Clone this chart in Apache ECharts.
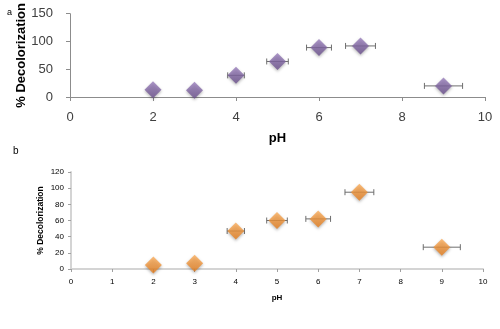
<!DOCTYPE html>
<html>
<head>
<meta charset="utf-8">
<script src="https://cdn.jsdelivr.net/npm/echarts@6/dist/echarts.min.js"></script>
<style>
  html, body { margin: 0; padding: 0; background: #fff; }
  #chart { width: 500px; height: 329px; }
</style>
</head>
<body>
<div id="chart"></div>
<script>
// panel a
const phA = [2, 3, 4, 5, 6, 7, 9];
const decolA = [13, 12, 39, 64, 89, 92, 20];
const errA = [0, 0, 0.2, 0.26, 0.3, 0.36, 0.46];
const yTicksA = [0, 50, 100, 150];

// panel b
const phB = [2, 3, 4, 5, 6, 7, 9];
const decolB = [5, 7, 47, 60, 62, 95, 27];
const errB = [0, 0, 0.21, 0.25, 0.3, 0.35, 0.45];
const yTicksB = [0, 20, 40, 60, 80, 100, 120];

const font = "'Liberation Sans', Arial, sans-serif";

const chart = echarts.init(document.getElementById("chart"));

function errorBars(xs, ys, errs, idx) {
  return {
    type: "custom",
    xAxisIndex: idx,
    yAxisIndex: idx,
    z: 1,
    silent: true,
    data: xs.map((x, i) => [x, ys[i], errs[i]]),
    renderItem: function (params, api) {
      const e = api.value(2);
      if (!e) return null;
      const l = api.coord([api.value(0) - e, api.value(1)]);
      const r = api.coord([api.value(0) + e, api.value(1)]);
      const st = { stroke: "#6e6e6e", lineWidth: 1 };
      return {
        type: "group",
        children: [
          { type: "line", shape: { x1: l[0], y1: l[1], x2: r[0], y2: r[1] }, style: st },
          { type: "line", shape: { x1: l[0], y1: l[1] - 3, x2: l[0], y2: l[1] + 3 }, style: st },
          { type: "line", shape: { x1: r[0], y1: r[1] - 3, x2: r[0], y2: r[1] + 3 }, style: st },
        ],
      };
    },
  };
}

function markers(xs, ys, idx, c1, c2) {
  return {
    type: "scatter",
    xAxisIndex: idx,
    yAxisIndex: idx,
    z: 3,
    symbol: "diamond",
    symbolSize: [17, 17],
    data: xs.map((x, i) => [x, ys[i]]),
    itemStyle: {
      color: new echarts.graphic.LinearGradient(0, 0, 0, 1, [
        { offset: 0, color: c1 },
        { offset: 1, color: c2 },
      ]),
      shadowColor: "rgba(0,0,0,0.35)",
      shadowBlur: 3,
      shadowOffsetY: 1.5,
    },
  };
}

chart.setOption({
  animation: false,
  title: [
    { text: "a", left: 2, top: 3, textStyle: { fontSize: 9, fontWeight: "normal", color: "#000", fontFamily: font } },
    { text: "b", left: 8, top: 141, textStyle: { fontSize: 10, fontWeight: "normal", color: "#000", fontFamily: font } },
  ],
  grid: [
    { left: 70, right: 15, top: 8, height: 89 },
    { left: 71, right: 17, top: 172, height: 97 },
  ],
  xAxis: [
    {
      gridIndex: 0, type: "value", min: 0, max: 10, interval: 2,
      name: "pH", nameLocation: "middle", nameGap: 35, nameMoveOverlap: false,
      nameTextStyle: { fontSize: 13, fontWeight: "bold", color: "#000", fontFamily: font },
      axisLine: { lineStyle: { color: "#8c8c8c", width: 1 } },
      axisTick: { show: true, length: 4, lineStyle: { color: "#8c8c8c" } },
      axisLabel: { fontSize: 13, color: "#404040", margin: 14, fontFamily: font },
      splitLine: { show: false },
    },
    {
      gridIndex: 1, type: "value", min: 0, max: 10, interval: 1,
      name: "pH", nameLocation: "middle", nameGap: 25, nameMoveOverlap: false,
      nameTextStyle: { fontSize: 8, fontWeight: "bold", color: "#000", fontFamily: font },
      axisLine: { lineStyle: { color: "#d4d4d4", width: 2 } },
      axisTick: { show: true, length: 3, lineStyle: { color: "#a0a0a0" } },
      axisLabel: { fontSize: 8, color: "#000", margin: 9, fontFamily: font },
      splitLine: { show: false },
    },
  ],
  yAxis: [
    {
      gridIndex: 0, type: "value", min: 0, max: 150, interval: 50,
      name: "% Decolorization", nameLocation: "middle", nameGap: 42, nameRotate: 90,
      nameMoveOverlap: false,
      nameTextStyle: { fontSize: 13, fontWeight: "bold", color: "#000", fontFamily: font },
      axisLine: { show: true, lineStyle: { color: "#8c8c8c", width: 1 } },
      axisTick: { show: true, length: 4, lineStyle: { color: "#8c8c8c" } },
      axisLabel: { fontSize: 13, color: "#404040", margin: 17, fontFamily: font,
        formatter: (v) => (yTicksA.includes(v) ? String(v) : "") },
      splitLine: { show: false },
    },
    {
      gridIndex: 1, type: "value", min: 0, max: 120, interval: 20,
      name: "% Decolorization", nameLocation: "middle", nameGap: 26, nameRotate: 90,
      nameMoveOverlap: false,
      nameTextStyle: { fontSize: 8.5, fontWeight: "bold", color: "#000", fontFamily: font },
      axisLine: { show: true, lineStyle: { color: "#d4d4d4", width: 2 } },
      axisTick: { show: true, length: 3, lineStyle: { color: "#a0a0a0" } },
      axisLabel: { fontSize: 8, color: "#000", margin: 7, fontFamily: font,
        formatter: (v) => (yTicksB.includes(v) ? String(v) : "") },
      splitLine: { show: false },
    },
  ],
  series: [
    errorBars(phA, decolA, errA, 0),
    markers(phA, decolA, 0, "#9a7fbd", "#6a4f8c"),
    errorBars(phB, decolB, errB, 1),
    markers(phB, decolB, 1, "#fbae5c", "#e67d1c"),
  ],
});
</script>
</body>
</html>
